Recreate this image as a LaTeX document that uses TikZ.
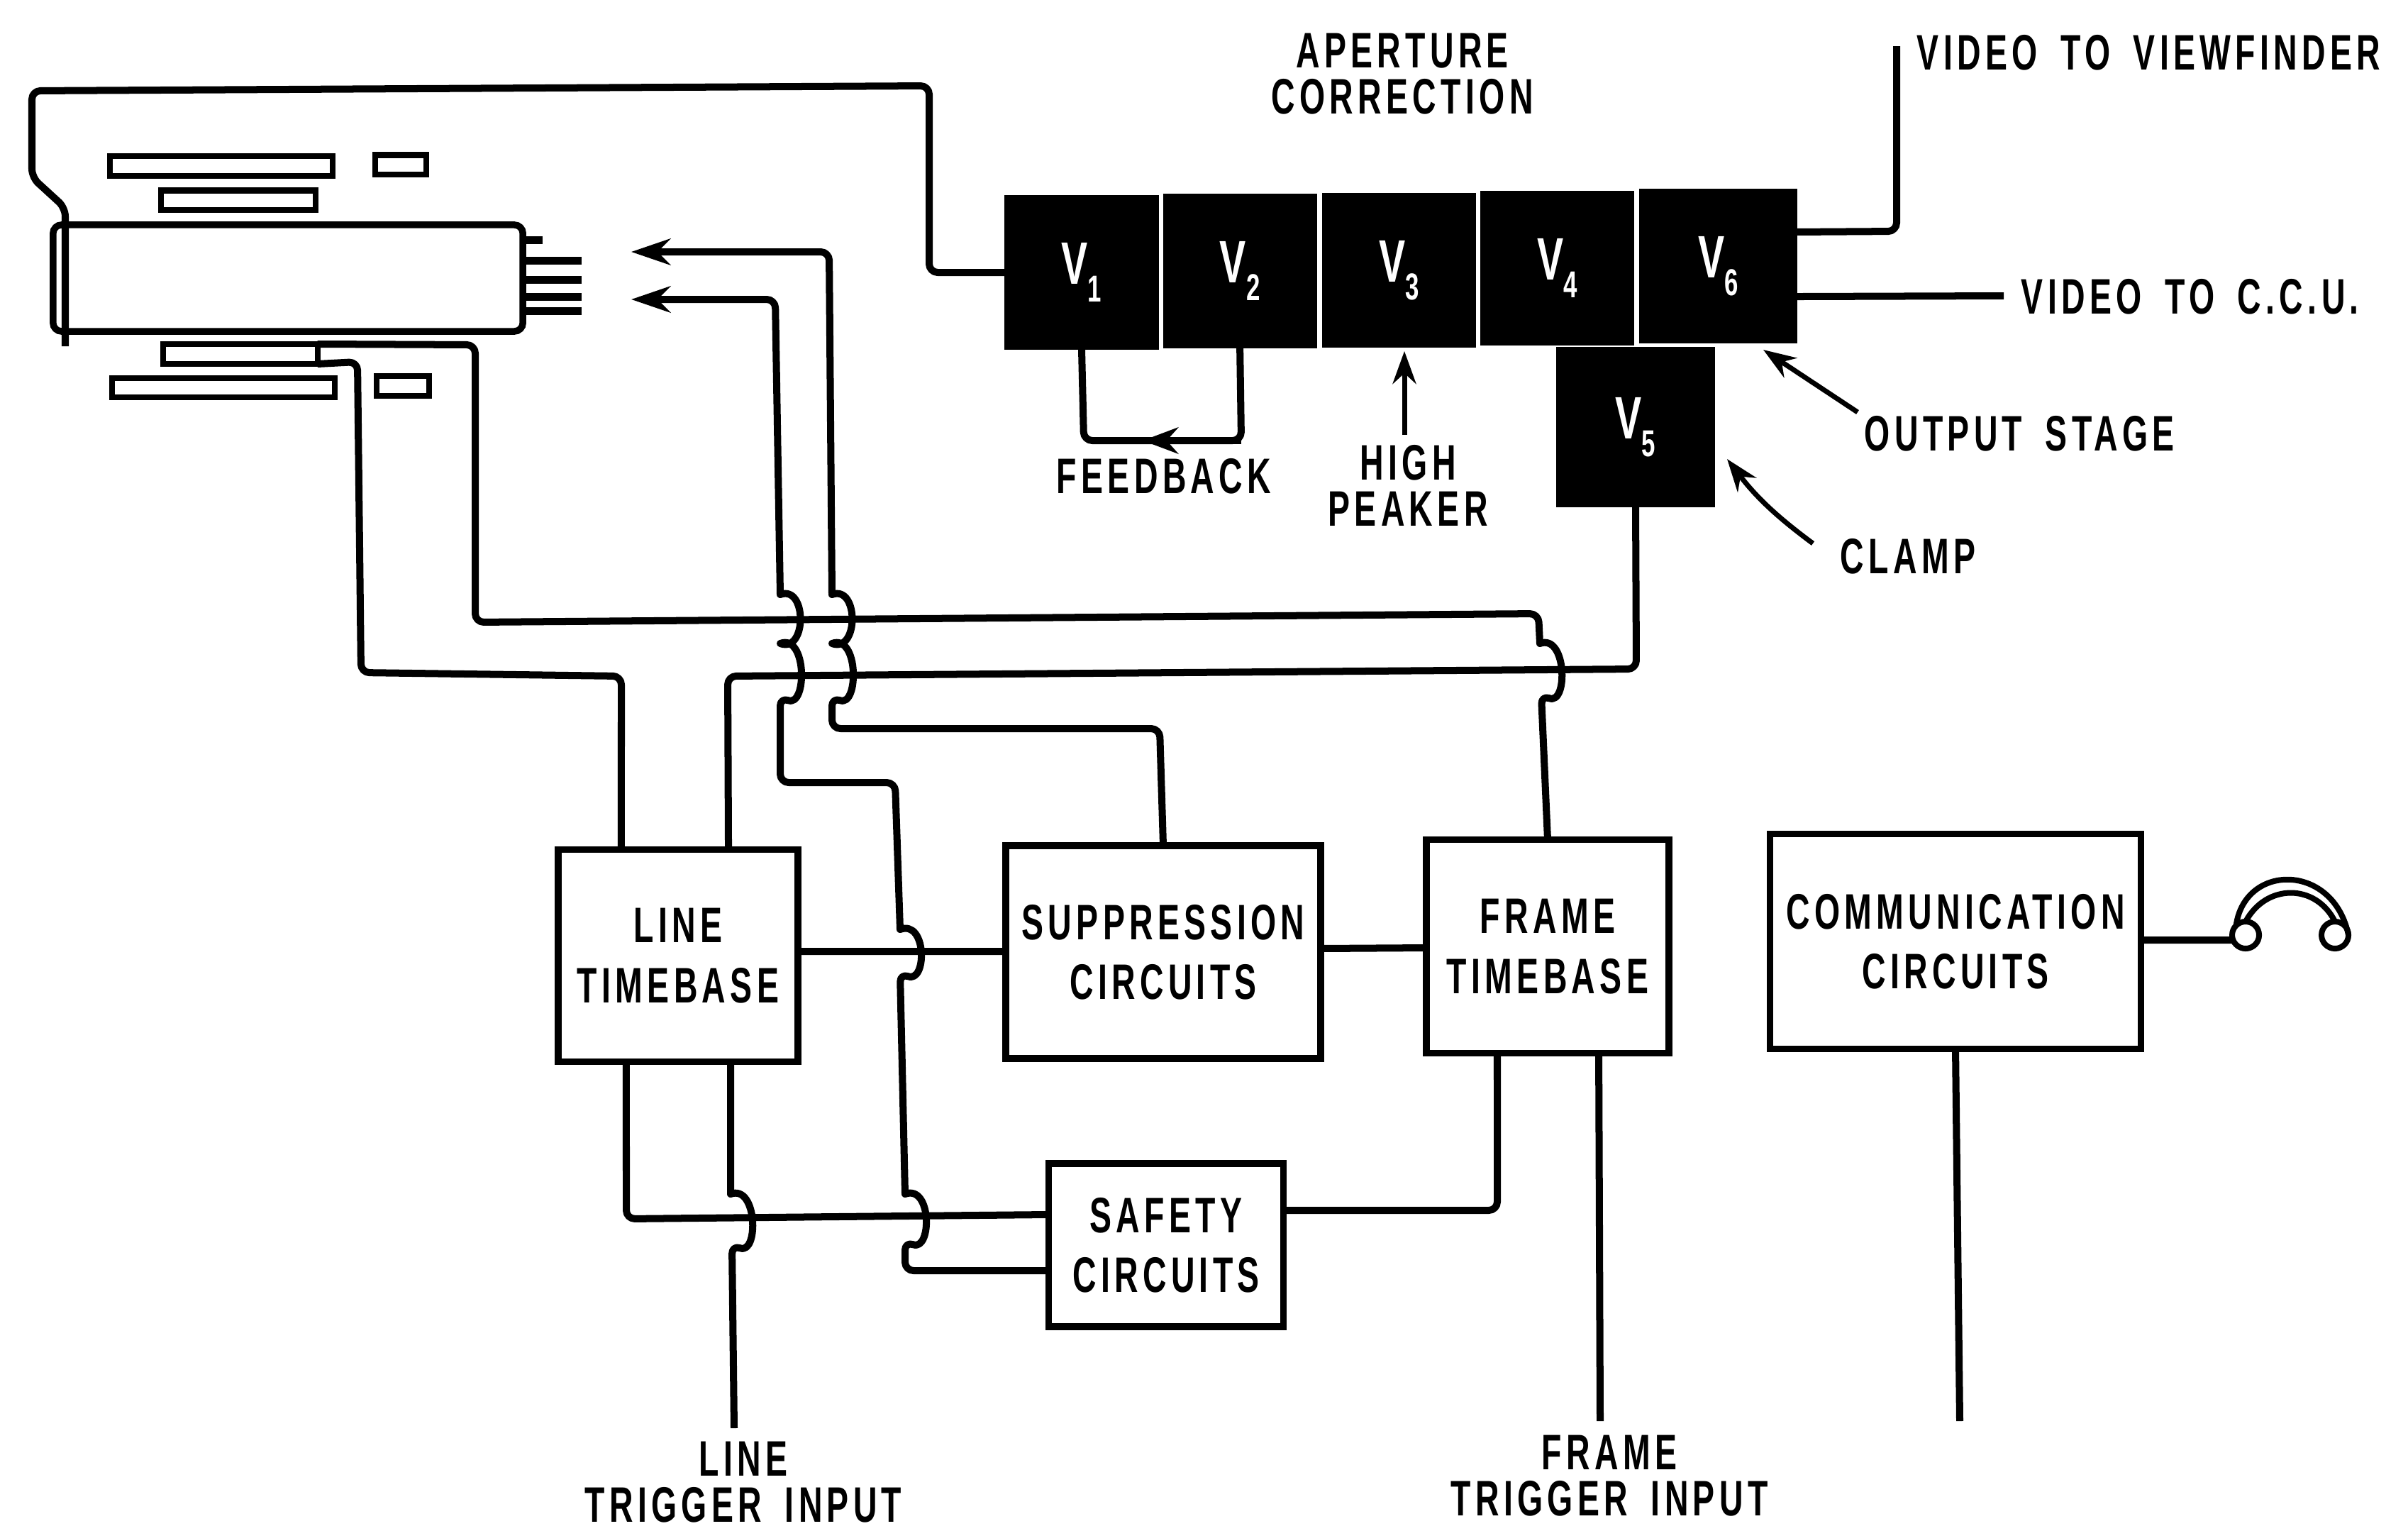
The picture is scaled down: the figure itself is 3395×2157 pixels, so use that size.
\documentclass[tikz,border=0pt]{standalone}
\usepackage{fontspec}
\usetikzlibrary{positioning,arrows.meta,calc}
\newfontfamily\letterfont[FakeStretch=0.66,LetterSpace=9,WordSpace=1.7]{Liberation Sans}
\newcommand{\vsub}[1]{V\raisebox{-0.3em}{\fontsize{15}{15}\selectfont #1}}

\begin{document}
\begin{tikzpicture}[
    x=0.01cm, y=-0.01cm,
    >=Stealth,
    every node/.style={font=\letterfont\bfseries\fontsize{20}{24}\selectfont},
    wire/.style={line width=0.1cm, line join=round, rounded corners=0.12cm},
    pinline/.style={line width=0.11cm},
    box/.style={draw, line width=0.095cm, fill=white, inner sep=0pt, outer sep=0pt, align=center},
    valve/.style={fill=black, text=white, inner sep=0pt, outer sep=0pt, minimum width=2.17cm, minimum height=2.18cm, font=\letterfont\bfseries\fontsize{24}{24}\selectfont},
    barbox/.style={box, line width=0.08cm},
    lbl/.style={inner sep=0pt, align=center},
    flowarrow/.style={wire, -{Stealth[length=0.55cm, width=0.37cm]}},
    pointer/.style={line width=0.07cm, -{Stealth[length=0.46cm, width=0.33cm]}},
    hop/.style={sharp corners, to path={.. controls ($(\tikztostart)+(38,#1)$) and ($(\tikztotarget)+(38,-#1)$) .. (\tikztotarget)}},
    hop/.default=14,
]
\useasboundingbox (0,0) rectangle (3395,2157);

% ---- Camera tube ----
\node[box, rounded corners=0.12cm, minimum width=6.62cm, minimum height=1.5cm] (tube) at (406,392) {};
\node[barbox, minimum width=3.13cm, minimum height=0.28cm] (topbar) at (312,234) {};
\node[barbox, minimum width=0.72cm, minimum height=0.27cm] (topstub) at (565,232) {};
\node[barbox, minimum width=2.17cm, minimum height=0.27cm] (midbar) at (336,282) {};
\node[barbox, minimum width=2.17cm, minimum height=0.28cm] (lowbar) at (339,499) {};
\node[barbox, minimum width=3.14cm, minimum height=0.27cm] (botbar) at (315,546) {};
\node[barbox, minimum width=0.73cm, minimum height=0.28cm] (botstub) at (568,544) {};

\foreach \y in {367,394,418,438}
    \draw[pinline] (tube.east |- 0,\y) -- ++(83,0);
\draw[pinline] (tube.east |- 0,338) -- ++(28,0);

\coordinate (gridupper) at (890,355);
\coordinate (gridlower) at (890,422);
\coordinate (tubeface) at (92,488);

% ---- Video amplifier ----
\node[valve] (v1) at (1525,384) {\vsub{1}};
\node[valve, right=0.06cm of v1, yshift=0.02cm] (v2) {\vsub{2}};
\node[valve, right=0.07cm of v2, yshift=0.01cm] (v3) {\vsub{3}};
\node[valve, right=0.06cm of v3, yshift=0.03cm] (v4) {\vsub{4}};
\node[valve, right=0.07cm of v4, yshift=0.03cm, minimum width=2.23cm] (v6) {\vsub{6}};
\node[valve, minimum width=2.24cm, minimum height=2.25cm] (v5) at (2306,602) {\vsub{5}};

% Feedback loop and pointers
\draw[wire] (v2.south) -- (1750,621) -- (1528,621) -- (v1.south);
\coordinate (fbcorner) at (1750,621);
\coordinate (fbtip) at (1611,621);
\draw[line width=0.1cm, -{Stealth[length=0.5cm, width=0.37cm]}] (fbcorner) -- (fbtip);

\coordinate (peakerfoot) at (1980,613);
\coordinate (peakertip) at (1980,495);
\draw[pointer] (peakerfoot) -- (peakertip);
\coordinate (outfoot) at (2619,581);
\coordinate (outtip) at (2486,493);
\draw[pointer] (outfoot) -- (outtip);
\coordinate (clampfoot) at (2556,766);
\coordinate (clamptip) at (2435,647);
\draw[pointer] (clampfoot) to[bend left=8] (clamptip);

% Outputs
\coordinate (vfend) at (2674,65);
\coordinate (ccuend) at (2825,417);
\draw[wire] ([yshift=0.48cm]v6.east) -- (2674,326) -- (vfend);
\draw[wire] ([yshift=-0.43cm]v6.east) -- (ccuend);

% ---- Timebase row ----
\node[box, minimum width=3.38cm, minimum height=2.99cm] (linetb) at (956,1347) {LINE\\TIMEBASE};
\node[box, minimum width=4.44cm, minimum height=3.00cm] (supp) at (1640,1342) {SUPPRESSION\\CIRCUITS};
\node[box, minimum width=3.42cm, minimum height=3.01cm] (frametb) at (2182,1334) {FRAME\\TIMEBASE};
\node[box, minimum width=5.23cm, minimum height=3.03cm] (comm) at (2757,1327) {COMMUNICATION\\CIRCUITS};
\node[box, minimum width=3.31cm, minimum height=2.30cm] (safety) at (1644,1755) {SAFETY\\CIRCUITS};

\draw[wire] ([yshift=0.06cm]linetb.east) -- ([yshift=0.01cm]supp.west);
\draw[wire] ([yshift=0.05cm]supp.east) -- ([yshift=-0.02cm]frametb.west);

% Long runs up to the tube, these hop over the two horizontals
\draw[flowarrow] (supp.north) -- (1635,1027) -- (1173,1027) -- (1173,983) to[hop] (1173,907) to[hop] (1173,838) -- (1169,355) -- (gridupper);
\draw[flowarrow] ([yshift=-0.36cm]safety.west) -- (1276,1791) -- (1276,1750) to[hop] (1276,1683) -- (1269,1372) to[hop] (1269,1310) -- (1262,1103) -- (1100,1103) -- (1100,983) to[hop] (1100,907) to[hop] (1100,838) -- (1093,422) -- (gridlower);

\draw[wire] ([xshift=-0.80cm]linetb.north) -- (876,953) -- (509,948) -- (504,510) -- (lowbar.south east);
\draw[wire] ([xshift=0.71cm]linetb.north) -- (1026,953) -- (2307,943) -- (v5.south);
\draw[wire] (frametb.north) -- (2173,980) to[hop] (2171,907) -- (2169,865) -- (670,877) -- (670,486) -- (lowbar.north east);
\draw[wire] (tubeface) -- (92,293) -- (45,250) -- (45,128) -- (1310,121) -- (1310,384) -- (v1.west);

% ---- Safety and trigger inputs ----
\coordinate (lineinput) at (1035,2013);
\coordinate (frameinput) at (2256,2003);
\coordinate (comminput) at (2763,2003);

\draw[wire] ([xshift=-0.73cm]linetb.south) -- (883,1718) -- ([yshift=0.43cm]safety.west);
\draw[wire] (lineinput) -- (1032,1755) to[hop] (1030,1683) -- ([xshift=0.74cm]linetb.south);
\draw[wire] (safety.east) ++(0,-49) -- (2111,1706) -- ([xshift=-0.71cm]frametb.south);
\draw[wire] ([xshift=0.72cm]frametb.south) -- (frameinput);
\draw[wire] (comm.south) -- (comminput);

% ---- Headphones ----
\node[draw, circle, line width=0.08cm, minimum size=0.38cm, inner sep=0pt, outer sep=0pt] (phonel) at (3166,1318) {};
\node[draw, circle, line width=0.08cm, minimum size=0.38cm, inner sep=0pt, outer sep=0pt] (phoner) at (3292,1318) {};
\draw[wire] ([yshift=0.02cm]comm.east) -- ([yshift=-0.07cm]phonel.west);
\draw[line width=0.08cm] (phonel.north west) .. controls (3165,1216) and (3290,1216) .. (phoner.east);
\draw[line width=0.08cm] (phonel.north) .. controls (3195,1245) and (3265,1245) .. (phoner.north);

% ---- Labels ----
\node[lbl] (aperture) at (1977,104) {APERTURE\\[-5.5pt]CORRECTION};
\node[lbl, anchor=west] (viewfinder) at (2702,74) {VIDEO TO VIEWFINDER};
\node[lbl, anchor=west] (ccu) at (2849,418) {VIDEO TO C.C.U.};
\node[lbl, anchor=west] (output) at (2628,611) {OUTPUT STAGE};
\node[lbl, anchor=west] (clamp) at (2594,784) {CLAMP};
\node[lbl] (feedback) at (1641,671) {FEEDBACK};
\node[lbl] (peaker) at (1985,684) {HIGH\\[-5.5pt]PEAKER};
\node[lbl] (linetrig) at (1048,2089) {LINE\\[-5.5pt]TRIGGER INPUT};
\node[lbl] (frametrig) at (2269,2080) {FRAME\\[-5.5pt]TRIGGER INPUT};

\end{tikzpicture}
\end{document}
